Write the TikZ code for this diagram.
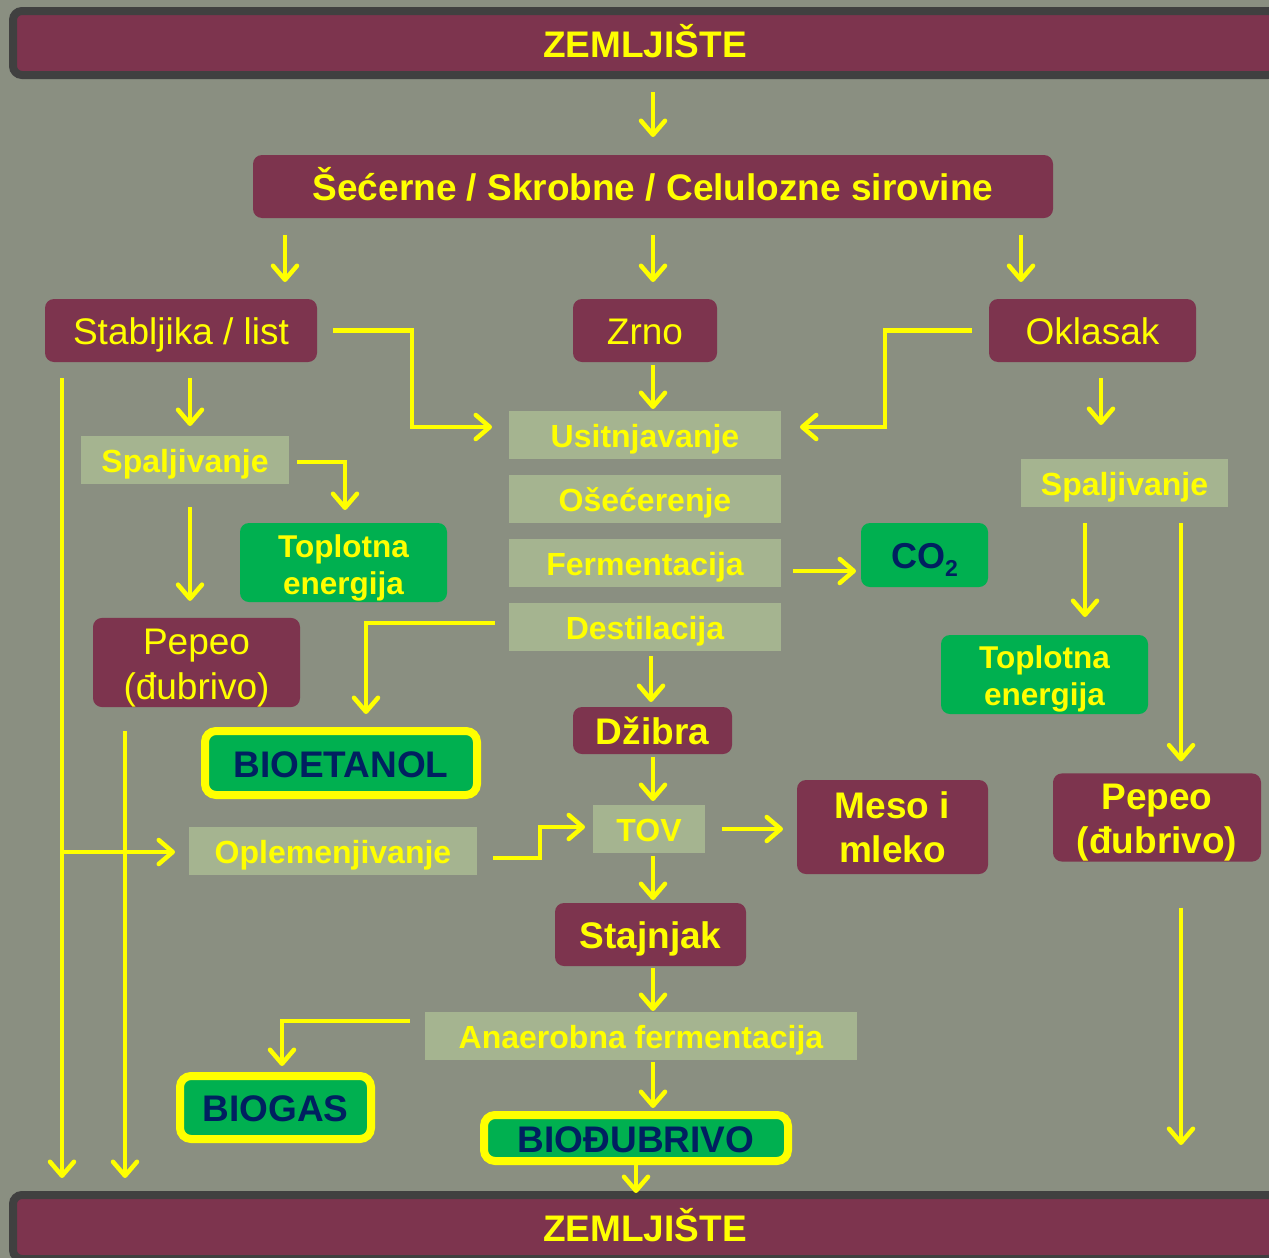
\documentclass[tikz,border=0pt]{standalone}
\usepackage{fontspec}
\setmainfont{Liberation Sans}
\usetikzlibrary{arrows.meta,calc}
\definecolor{bgc}{HTML}{8A8F81}
\definecolor{maroonc}{HTML}{7D344E}
\definecolor{barline}{HTML}{404040}
\definecolor{lightg}{HTML}{A5B490}
\definecolor{greenc}{HTML}{00B050}
\definecolor{ylw}{HTML}{FFFF00}
\definecolor{dblue}{HTML}{002060}
\tikzset{
  base/.style={inner sep=0pt, outer sep=0pt, text=ylw},
  one37/.style={text height=36.5pt, text depth=7.8pt},
  one32/.style={text height=32pt, text depth=6.8pt},
  barbox/.style={base, fill=maroonc, draw=barline, line width=8pt, rounded corners=9pt,
    minimum width=1264pt, minimum height=64pt, font=\fontsize{37}{40}\selectfont\bfseries, one37},
  mbox/.style={base, fill=maroonc, rounded corners=9pt},
  lbox/.style={base, fill=lightg, minimum height=48pt, font=\fontsize{32}{36}\selectfont\bfseries, one32},
  gbox/.style={base, fill=greenc, rounded corners=9pt},
  ybox/.style={base, fill=greenc, draw=ylw, line width=8pt, rounded corners=11pt, text=dblue,
    font=\fontsize{37}{40}\selectfont\bfseries, one37},
  reg37/.style={font=\fontsize{37}{45}\selectfont},
  bld37/.style={font=\fontsize{37}{44}\selectfont\bfseries},
  conn/.style={draw=ylw, line width=4.5pt, -{Straight Barb[length=14pt,width=24pt,round]}}
}
\begin{document}
\begin{tikzpicture}[x=1pt,y=-1pt]
\useasboundingbox (0,0) rectangle (1269,1258);
\fill[bgc] (0,0) rectangle (1269,1258);

% bars
\node[barbox] (top) at (645,43) {ZEMLJIŠTE};
\node[barbox] (bot) at (645,1227) {ZEMLJIŠTE};

% main boxes
\node[mbox, minimum width=800pt, minimum height=63pt, font=\fontsize{37}{40}\selectfont\bfseries, one37]
  (sir) at (653,186.5) {Šećerne / Skrobne / Celulozne sirovine};
\node[mbox, reg37, one37, minimum width=272pt, minimum height=63pt] (stab) at (181,330.5) {Stabljika / list};
\node[mbox, reg37, one37, minimum width=144pt, minimum height=63pt] (zrno) at (645,330.5) {Zrno};
\node[mbox, reg37, one37, minimum width=207pt, minimum height=63pt] (okl) at (1092.5,330.5) {Oklasak};

% left column
\node[lbox, minimum width=208pt] (spL) at (185,460) {Spaljivanje};
\node[gbox, minimum width=207pt, minimum height=79pt, align=center,
  font=\fontsize{31.5}{37}\selectfont\bfseries] (topL) at (343.5,562.5) {\rule{0pt}{33pt}Toplotna\\energija};
\node[mbox, reg37, minimum width=207pt, minimum height=87pt, align=center] (pepL) at (196.5,662.5)
  {\rule{0pt}{36.5pt}Pepeo\\(đubrivo)};

% centre column
\node[lbox, minimum width=272pt] (usit) at (645,435) {Usitnjavanje};
\node[lbox, minimum width=272pt] (osec) at (645,499) {Ošećerenje};
\node[lbox, minimum width=272pt] (ferm) at (645,563) {Fermentacija};
\node[lbox, minimum width=272pt] (dest) at (645,627) {Destilacija};
\node[gbox, text=dblue, minimum width=127pt, minimum height=64pt,
  font=\fontsize{36}{40}\selectfont\bfseries, text height=35.5pt, text depth=7.6pt] (co2) at (924.5,555)
  {CO\raisebox{-0.22em}{\fontsize{23}{23}\selectfont 2}};
\node[mbox, bld37, one37, minimum width=159pt, minimum height=47pt] (dzib) at (652.5,730.5) {Džibra};
\node[ybox, minimum width=272pt, minimum height=64pt] (bioet) at (341,763) {BIOETANOL};
\node[lbox, minimum width=112pt] (tov) at (649,829) {TOV};
\node[lbox, minimum width=288pt] (ople) at (333,851) {Oplemenjivanje};
\node[mbox, bld37, minimum width=191pt, minimum height=94pt, align=center] (meso) at (892.5,827) {Meso i\\mleko};
\node[mbox, bld37, one37, minimum width=191pt, minimum height=63pt] (stajn) at (650.5,934.5) {Stajnjak};
\node[lbox, minimum width=432pt] (anae) at (641,1036) {Anaerobna fermentacija};
\node[ybox, minimum width=191pt, minimum height=63pt] (biogas) at (275.5,1107.5) {BIOGAS};
\node[ybox, minimum width=304pt, minimum height=46pt] (biodub) at (636,1138) {BIOĐUBRIVO};

% right column
\node[lbox, minimum width=207pt] (spR) at (1124.5,483) {Spaljivanje};
\node[gbox, minimum width=207pt, minimum height=79pt, align=center,
  font=\fontsize{31.5}{37}\selectfont\bfseries] (topR) at (1044.5,674.5) {\rule{0pt}{31pt}Toplotna\\energija};
\node[mbox, bld37, minimum width=208pt, minimum height=87pt, align=center] (pepR) at (1157,817.5)
  {\rule{0pt}{36.5pt}Pepeo\\(đubrivo)};

% connectors
\draw[conn] ($(top.south)+(8,17)$) -- ($(sir.north)+(0,-18)$);
\draw[conn] ($(sir.south)+(-368,17)$) -- ($(stab.north)+(104,-17)$);
\draw[conn] ($(sir.south)+(0,17)$) -- ($(zrno.north)+(8,-17)$);
\draw[conn] ($(sir.south)+(368,17)$) -- ($(okl.north)+(-71.5,-17)$);
\draw[conn] ($(stab.east)+(16,0)$) -| ($(usit.west)+(-97,-8)$) -- ($(usit.west)+(-17,-8)$);
\draw[conn] ($(okl.west)+(-17,0)$) -| ($(usit.east)+(104,-8)$) -- ($(usit.east)+(19,-8)$);
\draw[conn] ($(zrno.south)+(8,3)$) -- ($(usit.north)+(8,-2)$);
\draw[conn] ($(stab.south)+(9,16)$) -- ($(spL.north)+(5,-10)$);
\draw[conn] ($(stab.south)+(-119,16)$) -- ($(bot.north)+(-583,-17)$);
\draw[conn] ($(ople.west)+(-127,1)$) -- ($(ople.west)+(-14,1)$);
\draw[conn] ($(spL.east)+(8,2)$) -| ($(topL.north)+(1.5,-13)$);
\draw[conn] ($(spL.south)+(5,23)$) -- ($(pepL.north)+(-6.5,-17)$);
\draw[conn] ($(pepL.south)+(-71.5,24)$) -- ($(bot.north)+(-520,-17)$);
\draw[conn] ($(ferm.east)+(12,8)$) -- ($(co2.west)+(-5,16)$);
\draw[conn] ($(dest.west)+(-14,-4)$) -| ($(bioet.north)+(25,-17)$);
\draw[conn] ($(dest.south)+(6,5)$) -- ($(dzib.north)+(-1.5,-5)$);
\draw[conn] ($(dzib.south)+(0.5,3)$) -- ($(tov.north)+(4,-4)$);
\draw[conn] ($(ople.east)+(16,7)$) -- ++(47,0) |- ($(tov.west)+(-8,-2)$);
\draw[conn] ($(tov.east)+(17,0)$) -- ($(meso.west)+(-14,2)$);
\draw[conn] ($(tov.south)+(4,3)$) -- ($(stajn.north)+(2.5,-3)$);
\draw[conn] ($(stajn.south)+(2.5,2)$) -- ($(anae.north)+(12,-1)$);
\draw[conn] ($(anae.west)+(-15,-15)$) -| ($(biogas.north)+(6.5,-10)$);
\draw[conn] ($(anae.south)+(12,2)$) -- ($(biodub.north)+(17,-7)$);
\draw[conn] ($(biodub.south)+(0,4)$) -- ($(bot.north)+(-9,-2)$);
\draw[conn] ($(okl.south)+(8.5,16)$) -- ($(spR.north)+(-23.5,-34)$);
\draw[conn] ($(spR.south)+(-39.5,16)$) -- ($(topR.north)+(40.5,-18)$);
\draw[conn] ($(spR.south)+(56.5,16)$) -- ($(pepR.north)+(24,-12)$);
\draw[conn] ($(pepR.south)+(24,46)$) -- ($(bot.north)+(536,-50)$);
\end{tikzpicture}
\end{document}
